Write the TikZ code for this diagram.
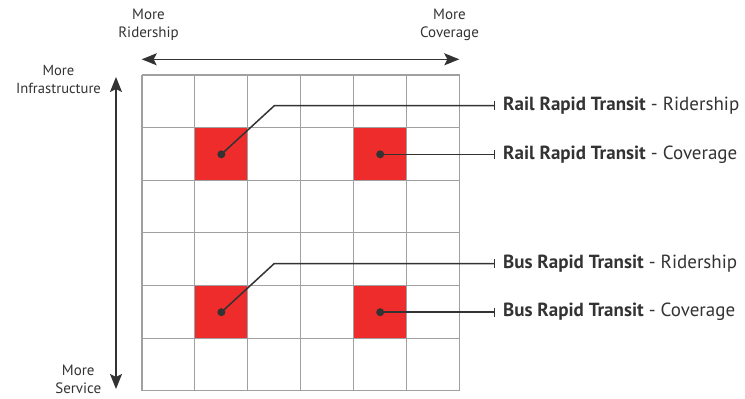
\documentclass[tikz,border=0pt]{standalone}
\usepackage{fontspec}
\setmainfont{PT Sans}
\usetikzlibrary{arrows.meta}
\definecolor{ink}{HTML}{333333}
\definecolor{gridgray}{HTML}{A0A0A0}
\definecolor{hot}{HTML}{EE2C2C}
\tikzset{
  cellhot/.style={fill=hot, draw=none, minimum size=52.8pt, inner sep=0pt, outer sep=0pt},
  gridline/.style={draw=gridgray, line width=1.1pt},
  axis/.style={draw=ink, line width=1.4pt, {Stealth[length=15pt,width=12pt,inset=3pt]}-{Stealth[length=15pt,width=12pt,inset=3pt]}},
  leader/.style={draw=ink, line width=1.5pt, -{Bar[width=9pt,line width=1.4pt]}},
  dotmark/.style={circle, fill=ink, inner sep=0pt, minimum size=8pt},
  axislabel/.style={text=ink, font=\fontsize{15}{18}\selectfont, align=center, inner sep=0pt},
  keylabel/.style={text=ink, font=\fontsize{19}{21}\selectfont, anchor=west, inner sep=0pt},
}
\begin{document}
\begin{tikzpicture}[x=1pt, y=-1pt]
\useasboundingbox (0,0) rectangle (745,399);

% highlighted cells
\node[cellhot] (r1) at (221.4,154.3) {};
\node[cellhot] (r2) at (380.2,154.3) {};
\node[cellhot] (b1) at (221.4,312.2) {};
\node[cellhot] (b2) at (380.2,312.2) {};

% 6 x 6 grid
\foreach \i in {0,...,6} {
  \draw[gridline] ({142+52.93*\i},75) -- ({142+52.93*\i},390.8);
  \draw[gridline] (142,{75+52.63*\i}) -- (459.6,{75+52.63*\i});
}

% axes
\coordinate (hl) at (141.7,59.3);
\coordinate (hr) at (459.3,59.3);
\coordinate (vt) at (116,77);
\coordinate (vb) at (116,389);
\draw[axis] (hl) -- (hr);
\draw[axis] (vt) -- (vb);

% axis labels
\node[axislabel] (ridership) at (148.5,24.5) {More\\Ridership};
\node[axislabel] (coverage) at (449.5,24.5) {More\\Coverage};
\node[axislabel, font=\fontsize{14.6}{18}\selectfont] (infra) at (58.5,79.5) {More\\Infrastructure};
\node[axislabel] (service) at (78.3,379.5) {More\\Service};

% key labels
\node[keylabel] (k1) at (503,105.7) {\textbf{Rail Rapid Transit} - Ridership};
\node[keylabel] (k2) at (503,154.3) {\textbf{Rail Rapid Transit} - Coverage};
\node[keylabel] (k3) at (503,263.5) {\textbf{Bus Rapid Transit} - Ridership};
\node[keylabel] (k4) at (503,312.2) {\textbf{Bus Rapid Transit} - Coverage};

% leaders from cell centres to key labels
\coordinate (e1) at (495,105.7);
\coordinate (e2) at (495,154.3);
\coordinate (e3) at (495,263.5);
\coordinate (e4) at (495,312.2);
\draw[leader] (r1.center) -- (274.3,105.7) -- (e1);
\draw[leader] (r2.center) -- (e2);
\draw[leader] (b1.center) -- (274.3,263.5) -- (e3);
\draw[leader] (b2.center) -- (e4);
\node[dotmark] at (r1.center) {};
\node[dotmark] at (r2.center) {};
\node[dotmark] at (b1.center) {};
\node[dotmark] at (b2.center) {};
\end{tikzpicture}
\end{document}
